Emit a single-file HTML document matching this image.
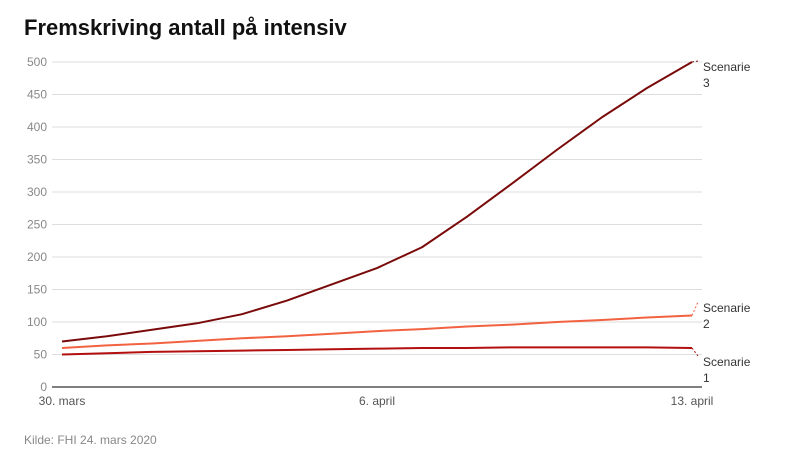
<!DOCTYPE html>
<html><head><meta charset="utf-8"><style>
body{margin:0;background:#fff;width:787px;height:463px;overflow:hidden;font-family:"Liberation Sans",Arial,sans-serif}
</style></head><body>
<svg id="chart" width="787" height="463" xmlns="http://www.w3.org/2000/svg" font-family="Liberation Sans, Arial, sans-serif">
<text x="24" y="35" font-size="22" font-weight="bold" fill="#111">Fremskriving antall på intensiv</text>
<g id="grid"></g><g id="series"></g>
<text x="24" y="444" font-size="12" fill="#888">Kilde: FHI 24. mars 2020</text>
</svg>
<script>
const days = [0,1,2,3,4,5,6,7,8,9,10,11,12,13,14];
const xTickLabels = ["30. mars","6. april","13. april"];
const xTickDays = [0,7,14];
const yTicks = [0,50,100,150,200,250,300,350,400,450,500];
const scenario1 = [50,52,54,55,56,57,58,59,60,60,61,61,61,61,60];
const scenario2 = [60,64,67,71,75,78,82,86,89,93,96,100,103,107,110];
const scenario3 = [70,78,88,98,112,133,158,183,215,262,313,365,415,460,500];
const seriesNames = ["Scenarie 1","Scenarie 2","Scenarie 3"];
const NS="http://www.w3.org/2000/svg";
const X0=62,X1=692,Y0=387,Y1=62;
function xs(d){return X0+(d-0)/(14-0)*(X1-X0);}
function ys(v){return Y0-v/500*(Y0-Y1);}
function mk(tag,attrs,parent){const e=document.createElementNS(NS,tag);for(const k in attrs)e.setAttribute(k,attrs[k]);parent.appendChild(e);return e;}
const grid=document.getElementById('grid'),ser=document.getElementById('series');
yTicks.forEach(t=>{
  const l=mk('line',{x1:52,x2:702,y1:ys(t),y2:ys(t),stroke:t===0?'#333':'#ddd','stroke-width':t===0?1.3:1},grid);
  
  
  const tx=mk('text',{x:47,y:ys(t)+4,'text-anchor':'end','font-size':12,fill:'#888'},grid);
  tx.textContent=t;
  
  
});
xTickDays.forEach((d,i)=>{
  const tx=mk('text',{x:xs(d),y:405,'text-anchor':'middle','font-size':12,fill:'#555'},grid);
  tx.textContent=xTickLabels[i];
  
  
});
const all=[scenario1,scenario2,scenario3];
const colors=['#b30f0f','#f26241','#7a0a0a'];
const labelY=[362,308,67];
all.forEach((s,i)=>{
  const pts=s.map((v,j)=>xs(days[j])+','+ys(v)).join(' ');
  const p=mk('polyline',{points:pts,fill:'none',stroke:colors[i],'stroke-width':2,'stroke-linejoin':'round'},ser);
  
  
  const lx=xs(days[days.length-1]),ly=ys(s[s.length-1]);
  const lead=mk('line',{x1:lx,y1:ly,x2:lx+6,y2:labelY[i]-6,stroke:colors[i],'stroke-width':1,'stroke-dasharray':'2,2'},ser);
  
  
  const t=mk('text',{x:703,y:labelY[i]+4,'font-size':12,fill:'#333'},ser);
  
  
  const a=mk('tspan',{x:703},t);a.textContent='Scenarie';
  const b=mk('tspan',{x:703,dy:16},t);b.textContent=String(i+1);
});
</script>
</body></html>
